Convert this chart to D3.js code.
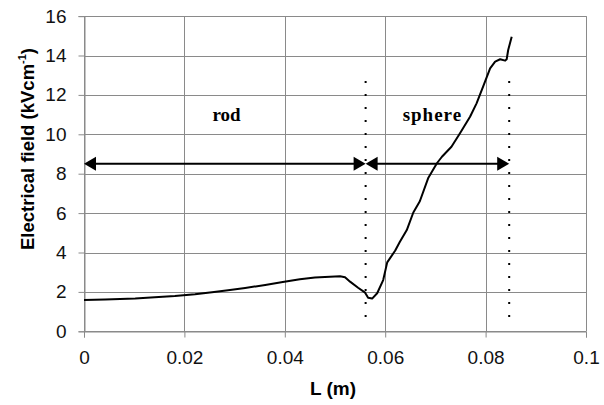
<!DOCTYPE html>
<html><head><meta charset="utf-8">
<script src="https://cdn.jsdelivr.net/npm/d3@7"></script>
<style>body{margin:0;background:#fff}svg{display:block}</style>
</head><body>
<script>
// Data
const lengthM = [0, 0.0042, 0.0102, 0.0141, 0.0181, 0.0221, 0.0255, 0.0287, 0.0321, 0.0361, 0.0396, 0.043, 0.046, 0.049, 0.051, 0.052, 0.053, 0.0546, 0.056, 0.0566, 0.0574, 0.0584, 0.0596, 0.0604, 0.062, 0.0629, 0.0643, 0.0656, 0.0669, 0.0686, 0.0703, 0.0713, 0.0732, 0.0749, 0.0769, 0.0782, 0.0795, 0.0809, 0.0819, 0.0829, 0.0839, 0.0842, 0.0845, 0.0852];
const field = [1.59, 1.62, 1.67, 1.73, 1.79, 1.88, 1.98, 2.08, 2.2, 2.35, 2.5, 2.64, 2.73, 2.77, 2.79, 2.74, 2.52, 2.21, 1.96, 1.7, 1.66, 1.93, 2.6, 3.5, 4.1, 4.53, 5.14, 6.03, 6.6, 7.8, 8.53, 8.86, 9.37, 10.05, 10.89, 11.57, 12.42, 13.35, 13.69, 13.81, 13.74, 13.81, 14.28, 14.95];
const xTicks = [0, 0.02, 0.04, 0.06, 0.08, 0.1];
const xTickLabels = ["0", "0.02", "0.04", "0.06", "0.08", "0.1"];
const yTicks = [0, 2, 4, 6, 8, 10, 12, 14, 16];
const boundaries = [0.0561, 0.0847];          // dotted separators
const regions = [{name: "rod", from: 0, to: 0.0561, labelX: 0.0284},
                 {name: "sphere", from: 0.0561, to: 0.0847, labelX: 0.0694}];
const arrowLevel = 8.5, labelLevel = 10.67, dotTop = 12.7, dotBottom = 0.3;

const W = 604, H = 405;
const m = {left: 84, right: 18, top: 16.1, bottom: 73.7};
const svg = d3.select("body").append("svg").attr("width", W).attr("height", H);
const x = d3.scaleLinear().domain([0, 0.1]).range([m.left, W - m.right]);
const y = d3.scaleLinear().domain([0, 16]).range([H - m.bottom, m.top]);
const grid = "#8a8a8a";
const font = "Arial, 'Liberation Sans', sans-serif";

// gridlines
svg.append("g").selectAll("line").data(yTicks).join("line")
  .attr("x1", x(0)).attr("x2", x(0.1)).attr("y1", d => Math.round(y(d)) + 0.5).attr("y2", d => Math.round(y(d)) + 0.5)
  .attr("stroke", grid).attr("stroke-width", 1);
svg.append("g").selectAll("line").data(xTicks).join("line")
  .attr("y1", y(0)).attr("y2", y(16)).attr("x1", d => Math.round(x(d)) + 0.5).attr("x2", d => Math.round(x(d)) + 0.5)
  .attr("stroke", grid).attr("stroke-width", 1);

// axes
const yAxis = svg.append("g").attr("transform", `translate(${Math.round(x(0)) + 0.5},0)`)
  .call(d3.axisLeft(y).tickValues(yTicks).tickSize(6).tickPadding(12).tickFormat(d3.format("d")));
const xAxis = svg.append("g").attr("transform", `translate(0,${Math.round(y(0)) + 0.5})`)
  .call(d3.axisBottom(x).tickValues(xTicks).tickSize(6).tickPadding(12).tickFormat((d, i) => xTickLabels[i]));
[yAxis, xAxis].forEach(a => {
  a.select(".domain").attr("stroke", grid);
  a.selectAll(".tick line").attr("stroke", grid);
  a.selectAll("text").attr("font-family", font).attr("font-size", 19).attr("fill", "#111");
});
xAxis.selectAll("text").attr("dy", null).attr("y", 32);

// dotted separators
svg.append("g").selectAll("line").data(boundaries).join("line")
  .attr("x1", d => x(d)).attr("x2", d => x(d)).attr("y1", y(dotTop)).attr("y2", y(dotBottom))
  .attr("stroke", "#000").attr("stroke-width", 2).attr("stroke-dasharray", "2,11");

// double-headed arrows
const ah = 12, aw = 7;
const ag = svg.append("g");
regions.forEach(r => {
  const x1 = x(r.from), x2 = x(r.to), yy = y(arrowLevel);
  ag.append("line").attr("x1", x1 + 4).attr("x2", x2 - 4).attr("y1", yy).attr("y2", yy)
    .attr("stroke", "#000").attr("stroke-width", 2);
  ag.append("path").attr("d", `M${x1},${yy}L${x1 + ah},${yy - aw}L${x1 + ah},${yy + aw}Z`).attr("fill", "#000");
  ag.append("path").attr("d", `M${x2},${yy}L${x2 - ah},${yy - aw}L${x2 - ah},${yy + aw}Z`).attr("fill", "#000");
  ag.append("text").attr("x", x(r.labelX)).attr("y", y(labelLevel)).attr("text-anchor", "middle")
    .attr("font-family", "'Liberation Serif', 'Times New Roman', serif").attr("font-weight", "bold")
    .attr("font-size", 19).attr("letter-spacing", r.name === "sphere" ? 1 : 0).text(r.name);
});

// curve
const pts = lengthM.map((d, i) => [d, field[i]]);
svg.append("path").datum(pts)
  .attr("d", d3.line().x(d => x(d[0])).y(d => y(d[1])))
  .attr("fill", "none").attr("stroke", "#000").attr("stroke-width", 2).attr("stroke-linejoin", "round");

// axis titles
svg.append("text").attr("x", (x(0) + x(0.1)) / 2 - 2).attr("y", 395).attr("text-anchor", "middle")
  .attr("font-family", font).attr("font-weight", "bold").attr("font-size", 19).text("L (m)");
const yt = svg.append("text").attr("transform", `translate(33.5,${149}) rotate(-90)`).attr("text-anchor", "middle")
  .attr("font-family", font).attr("font-weight", "bold").attr("font-size", 18.5);
yt.append("tspan").text("Electrical field (kVcm");
yt.append("tspan").attr("font-size", 11).attr("dy", -8).text("-1");
yt.append("tspan").attr("dy", 8).text(")");
</script>
</body></html>
